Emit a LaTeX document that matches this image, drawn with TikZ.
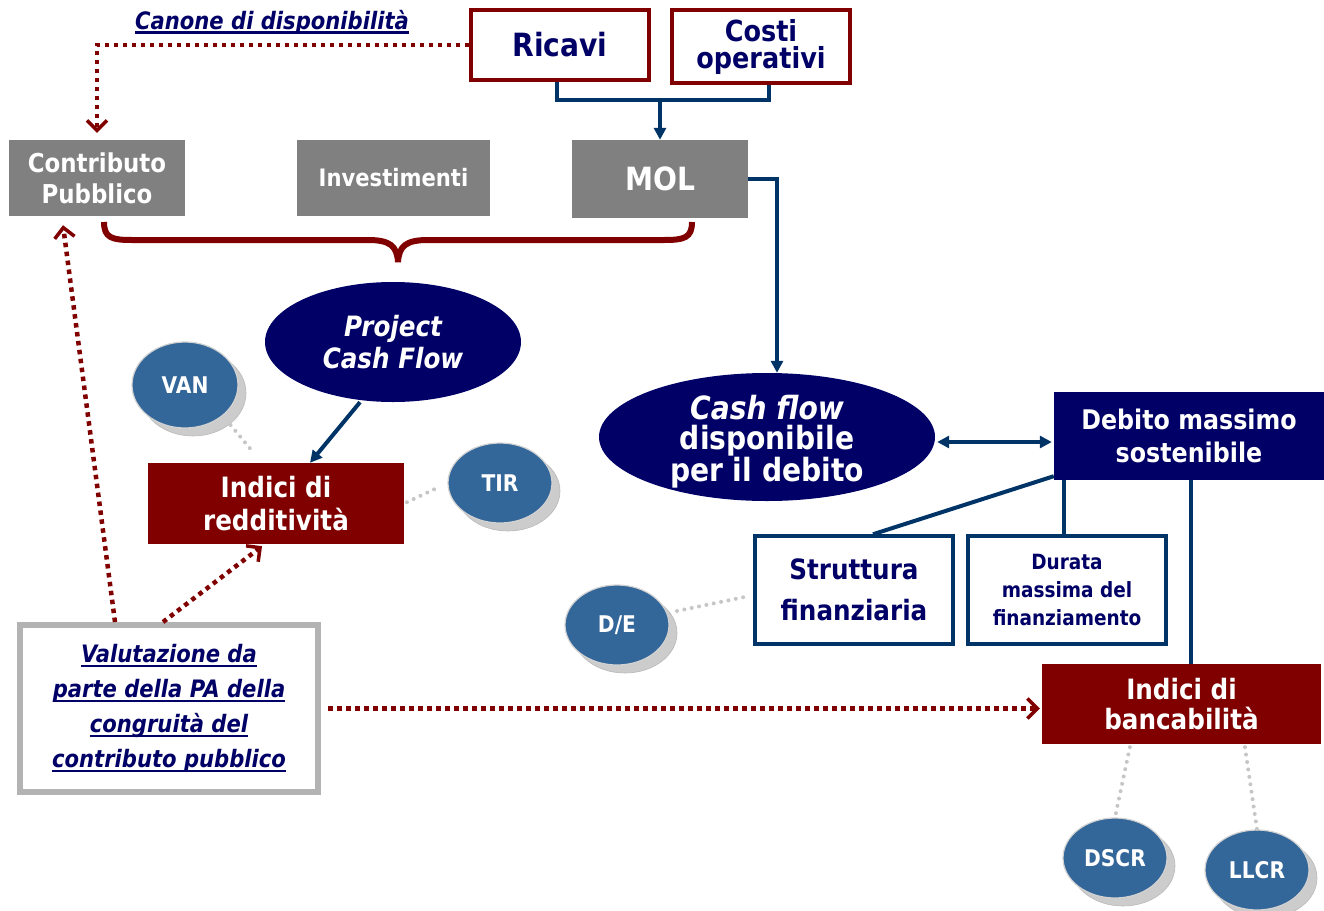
\documentclass[tikz,border=0pt]{standalone}
\usepackage{fontspec}
\setmainfont{DejaVu Sans}[FakeStretch=0.88]
\usetikzlibrary{arrows.meta,shapes.geometric,shadows,calc,patterns}
\definecolor{dred}{HTML}{800000}
\definecolor{navy}{HTML}{000066}
\definecolor{lblue}{HTML}{003366}
\definecolor{bblue}{HTML}{336699}
\definecolor{boxgray}{HTML}{808080}
\definecolor{vgray}{HTML}{B3B3B3}
\newcommand\fsz[2]{\fontsize{#1}{#2}\selectfont}
\newsavebox\ulbox
\newcommand\myul[1]{\sbox\ulbox{#1}\rlap{\rule[-4.5pt]{\wd\ulbox}{2.2pt}}\usebox\ulbox}
\begin{document}
\begin{tikzpicture}[x=1pt,y=-1pt,
  box/.style={rectangle, inner sep=0pt, align=center},
  redbox/.style={box, draw=dred, line width=3.5pt, fill=white, text=navy},
  bluebox/.style={box, draw=lblue, line width=3.5pt, fill=white, text=navy},
  graybox/.style={box, fill=boxgray, text=white},
  darkbox/.style={box, fill=dred, text=white},
  navybox/.style={box, fill=navy, text=white},
  oval/.style={ellipse, inner sep=0pt, fill=navy, text=white, align=center},
  bubble/.style={ellipse, inner sep=0pt, fill=bblue, draw=gray!35, line width=1.2pt,
     text=white, font=\bfseries\fsz{23}{23}, minimum width=104pt, minimum height=80pt,
     drop shadow={shadow xshift=8pt, shadow yshift=-8pt, fill=gray!40, draw=gray!55, line width=0.6pt, opacity=1}},
  navyline/.style={draw=lblue, line width=4pt},
  navyarrow/.style={navyline, -{Triangle[length=12pt,width=12pt]}},
  navydouble/.style={navyline, {Triangle[length=12pt,width=12pt]}-{Triangle[length=12pt,width=12pt]}},
  dotr/.style={draw=dred, line width=4.5pt, dash pattern=on 4.5pt off 4.5pt,
     -{Straight Barb[length=10pt,width=20pt,line width=3.5pt]}},
  dotg/.style={draw=gray!45, line width=4pt, line cap=round, dash pattern=on 0pt off 7.5pt},
  brace/.style={draw=dred, line width=6pt}
]
\useasboundingbox (0,0) rectangle (1324,910);

% top boxes
\node[redbox, minimum width=178pt, minimum height=70pt, font=\bfseries\fsz{32}{32}] (ricavi) at (560,45) {Ricavi};
\node[redbox, minimum width=178pt, minimum height=73pt, font=\bfseries\fsz{29}{27}] (costi) at (761,46.5) {Costi\\operativi};
\node[text=navy, font=\bfseries\itshape\fsz{24}{24}, inner sep=0pt] (canone) at (272,22) {\myul{Canone di disponibilità}};

% gray boxes
\node[graybox, minimum width=176pt, minimum height=76pt, font=\bfseries\fsz{26}{31}] (contrib) at (97,178) {Contributo\\Pubblico};
\node[graybox, minimum width=193pt, minimum height=76pt, font=\bfseries\fsz{24}{24}] (invest) at (393.5,178) {Investimenti};
\node[graybox, minimum width=176pt, minimum height=78pt, font=\bfseries\fsz{32}{32}] (mol) at (660,179) {MOL};

% ellipses
\node[oval, minimum width=256pt, minimum height=120pt, font=\bfseries\itshape\fsz{28}{32}] (pcf) at (393,342) {Project\\Cash Flow};
\node[oval, minimum width=336pt, minimum height=128pt, font=\bfseries\fsz{32}{30}] (cfd) at (767,437) {};
\node[text=white, align=center, inner sep=0pt, font=\bfseries\fsz{32}{30}] (cfdtext) at ([yshift=-5pt]cfd.center) {{\itshape Cash flow}\\disponibile\\per il debito};

% bubbles
\node[bubble, minimum width=106pt, minimum height=86pt] (van) at (185,385) {VAN};
\node[bubble] (tir) at (500,483) {TIR};
\node[bubble] (de) at (617,625) {D/E};
\node[bubble] (dscr) at (1115,858) {DSCR};
\node[bubble] (llcr) at (1257,870) {LLCR};

% index boxes
\node[darkbox, minimum width=256pt, minimum height=81pt, font=\bfseries\fsz{28}{33}] (ired) at (276,503.5) {Indici di\\redditività};
\node[darkbox, minimum width=279pt, minimum height=80pt, font=\bfseries\fsz{28}{30}] (ibanc) at (1181.5,704) {Indici di\\bancabilità};
\node[navybox, minimum width=270pt, minimum height=88pt, font=\bfseries\fsz{27}{33}] (debito) at (1189,436) {Debito massimo\\sostenibile};
\node[bluebox, minimum width=198pt, minimum height=108pt, font=\bfseries\fsz{28}{41}] (strutt) at (854,590) {Struttura\\finanziaria};
\node[bluebox, minimum width=198pt, minimum height=108pt, font=\bfseries\fsz{21}{28}] (durata) at (1067,590) {Durata\\massima del\\finanziamento};

% valutazione box
\node[box, draw=vgray, line width=6pt, fill=white, text=navy, minimum width=298pt, minimum height=167pt,
      font=\bfseries\itshape\fsz{24}{35}] (valut) at (169,708.5)
  {\myul{Valutazione da}\\\myul{parte della PA della}\\\myul{congruità del}\\\myul{contributo pubblico}};

% navy connectors
\draw[navyline] ([xshift=-3pt]ricavi.south) -- ++(0,18) -| ([xshift=8pt]costi.south);
\coordinate (jn) at (mol.north |- 0,98);
\draw[navyarrow] (jn) -- (mol.north);
\draw[navyarrow] (mol.east) -| ([xshift=10pt]cfd.north);
\draw[navyarrow] ([xshift=-33pt]pcf.south) -- ([xshift=34pt]ired.north);
\draw[navydouble, shorten <=2pt, shorten >=2pt] ([yshift=-5pt]cfd.east) -- ([yshift=-5pt]cfd.east -| debito.west);
\draw[navyline] ([yshift=4pt]debito.south west) -- ([xshift=19pt]strutt.north);
\draw[navyline] ([xshift=-3pt]durata.north) -- ([xshift=-3pt]durata.north |- debito.south);
\draw[navyline] ([xshift=2pt]debito.south) -- ([xshift=2pt]debito.south |- ibanc.north);

% brace
\draw[brace] (104,222) .. controls (104,238) and (112,240) .. (132,240) -- (368,240)
  .. controls (390,240) and (397,246) .. (398,262)
  .. controls (399,246) and (406,240) .. (428,240) -- (664,240)
  .. controls (684,240) and (692,238) .. (692,222);

% gray dotted links
\draw[dotg, shorten <=12pt, shorten >=13pt] (van.south east) -- (ired.north -| 262,0);
\draw[dotg, shorten <=3pt, shorten >=8pt] (ired.east) -- (tir.west);
\draw[dotg] ($(de.center)+(60,-14)$) -- ([xshift=-4pt,yshift=-6pt]strutt.west);
\draw[dotg, shorten <=3pt] ([xshift=-51pt]ibanc.south) -- (dscr.north);
\draw[dotg, shorten <=3pt] ([xshift=63pt]ibanc.south) -- (llcr.north);

% red dotted arrows
\draw[dotr] (ricavi.west) -| ([yshift=7pt]contrib.north);
\draw[dotr] ([xshift=-54pt]valut.north) -- ([xshift=-34pt,yshift=-9pt]contrib.south);
\draw[dotr] ([xshift=-6pt]valut.north) -- ([xshift=-14pt,yshift=-2pt]ired.south);
\coordinate (vs) at ([xshift=7pt]valut.east);
\draw[dotr, shorten >=2pt] (vs) -- (ibanc.west |- vs);
\end{tikzpicture}
\end{document}
